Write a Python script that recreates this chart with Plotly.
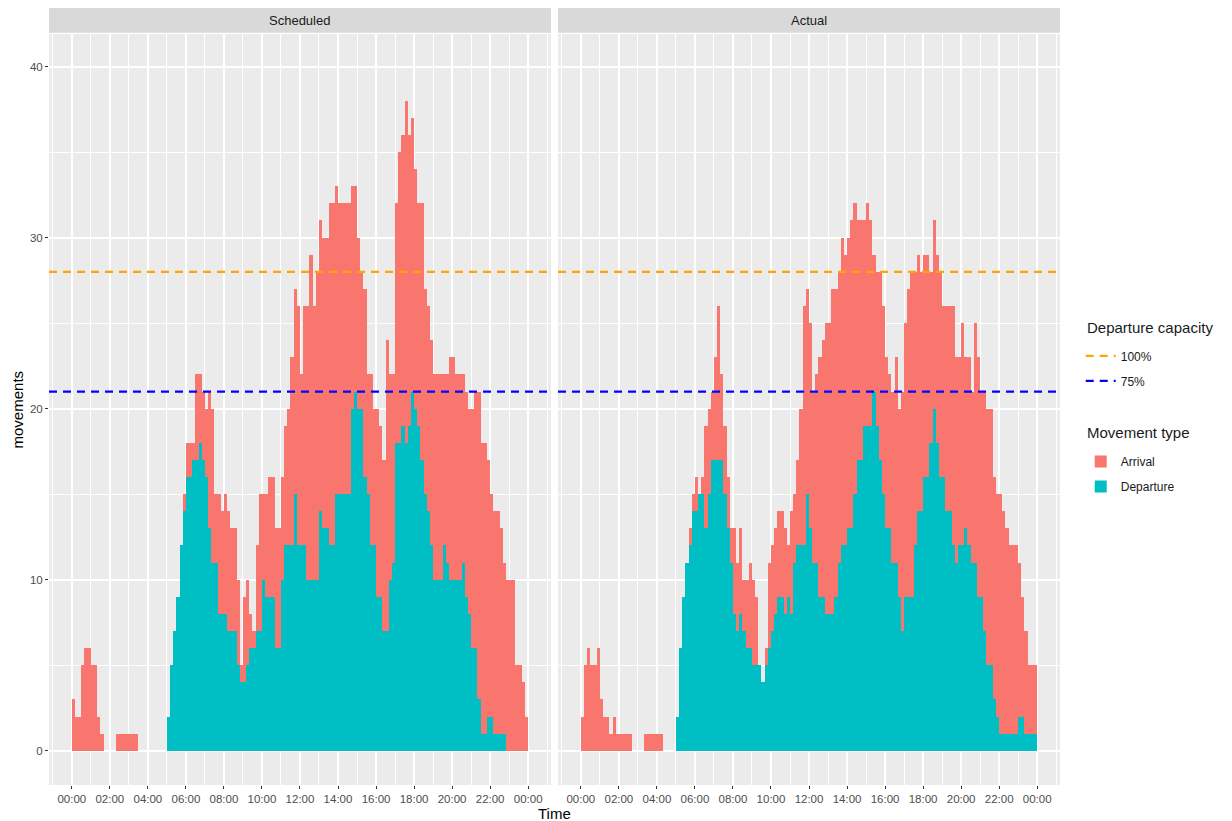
import plotly.graph_objects as go

# ---------------- data (rolling-hour movement counts, 10-minute bins) ----------------
time_labels = [f"{h:02d}:{m:02d}" for h in range(24) for m in range(0, 60, 10)]

sched_departure = [
    0, 0, 0, 0, 0, 0,   0, 0, 0, 0, 0, 0,
    0, 0, 0, 0, 0, 0,   0, 0, 0, 0, 0, 0,
    0, 0, 0, 0, 0, 0,   2, 5, 7, 9, 12, 14,
    16, 16, 17, 17, 18, 17,   16, 13, 11, 11, 8, 8,
    8, 7, 7, 7, 5, 4,   4, 5, 6, 6, 7, 7,
    10, 9, 9, 9, 6, 6,   10, 12, 12, 12, 15, 12,
    12, 12, 10, 10, 10, 10,   14, 13, 13, 12, 12, 15,
    15, 15, 15, 15, 20, 21,   20, 20, 16, 15, 12, 12,
    9, 9, 7, 7, 10, 11,   18, 18, 19, 18, 19, 21,
    20, 19, 17, 15, 14, 12,   10, 10, 10, 12, 11, 10,
    10, 10, 10, 11, 9, 8,   6, 6, 3, 1, 1, 2,
    2, 1, 1, 1, 1, 0,   0, 0, 0, 0, 0, 0,
]
sched_arrival = [
    3, 2, 2, 5, 6, 6,   5, 5, 2, 1, 0, 0,
    0, 0, 1, 1, 1, 1,   1, 1, 1, 0, 0, 0,
    0, 0, 0, 0, 0, 0,   0, 0, 0, 0, 0, 1,
    2, 2, 1, 5, 4, 4,   4, 8, 9, 4, 7, 6,
    7, 7, 6, 6, 5, 1,   5, 5, 2, 1, 5, 8,
    5, 6, 7, 7, 7, 7,   6, 7, 8, 11, 12, 14,
    10, 14, 16, 19, 16, 18,   17, 17, 17, 20, 20, 18,
    17, 17, 17, 17, 13, 12,   10, 8, 11, 7, 10, 8,
    11, 10, 10, 17, 12, 11,   14, 17, 17, 20, 17, 16,
    14, 13, 15, 12, 12, 12,   12, 12, 12, 10, 11, 13,
    13, 12, 12, 11, 12, 12,   14, 15, 18, 17, 17, 15,
    13, 13, 13, 12, 10, 10,   10, 10, 5, 5, 4, 2,
]
actual_departure = [
    0, 0, 0, 0, 0, 0,   0, 0, 0, 0, 0, 0,
    0, 0, 0, 0, 0, 0,   0, 0, 0, 0, 0, 0,
    0, 0, 0, 0, 0, 0,   2, 6, 9, 11, 12, 14,
    14, 15, 15, 13, 15, 17,   17, 17, 17, 15, 13, 11,
    8, 7, 8, 7, 6, 6,   5, 5, 5, 4, 5, 6,
    7, 8, 9, 9, 8, 9,   8, 11, 12, 12, 12, 15,
    13, 11, 11, 9, 9, 8,   8, 8, 9, 11, 12, 12,
    13, 13, 15, 17, 17, 19,   19, 19, 21, 19, 17, 15,
    13, 13, 11, 11, 9, 7,   9, 9, 9, 12, 14, 14,
    16, 16, 18, 20, 18, 16,   16, 14, 14, 12, 11, 12,
    12, 13, 12, 11, 11, 9,   9, 7, 5, 5, 3, 2,
    1, 1, 1, 1, 1, 1,   2, 2, 1, 1, 1, 1,
]
actual_arrival = [
    2, 5, 6, 5, 5, 6,   3, 2, 2, 1, 2, 1,
    1, 1, 1, 1, 0, 0,   0, 0, 1, 1, 1, 1,
    1, 1, 0, 0, 0, 0,   0, 0, 0, 0, 1, 1,
    2, 0, 1, 6, 5, 4,   6, 9, 5, 4, 3, 2,
    5, 4, 5, 3, 4, 5,   5, 4, 0, 0, 1, 5,
    5, 5, 5, 5, 5, 3,   6, 4, 5, 8, 14, 12,
    12, 10, 11, 14, 15, 17,   17, 19, 18, 17, 18, 17,
    17, 18, 17, 14, 14, 12,   13, 12, 8, 9, 11, 11,
    10, 9, 10, 12, 11, 14,   16, 18, 19, 16, 15, 14,
    13, 13, 10, 11, 11, 12,   10, 12, 12, 14, 12, 11,
    13, 10, 11, 10, 14, 14,   12, 14, 15, 15, 13, 13,
    14, 13, 12, 11, 11, 11,   9, 7, 6, 4, 4, 4,
]

facet_names = ["Scheduled", "Actual"]
movement_types = ["Arrival", "Departure"]
capacity_names = ["100%", "75%"]
capacity_values = [28, 21]
legend_titles = ["Departure capacity", "Movement type"]

tick_hours = list(range(0, 25, 2))
tick_labels = [f"{h % 24:02d}:00" for h in tick_hours]
y_ticks = [0, 10, 20, 30, 40]
y_minor = [5, 15, 25, 35]

# ---------------- styling ----------------
FONT = "Liberation Sans, Arial, sans-serif"
COL_ARR = "#F8766D"
COL_DEP = "#00BFC4"
CAP_COLORS = ["#FFA500", "#0000FF"]
X_RANGE = [-1.2, 25.2]
Y_RANGE = [-2.0, 41.9]
BIN_W = 1 / 6
Y_TOP = 0.9665

hours = [int(t[:2]) + int(t[3:]) / 60 for t in time_labels]
centers = [h + BIN_W / 2 for h in hours]

fig = go.Figure()
series = [(sched_departure, sched_arrival), (actual_departure, actual_arrival)]
for i, (dep, arr) in enumerate(series):
    xa = "x" if i == 0 else "x2"
    ya = "y" if i == 0 else "y2"
    fig.add_trace(go.Bar(
        x=centers, y=dep, width=BIN_W, name=movement_types[1],
        marker=dict(color=COL_DEP, line=dict(width=0)),
        legend="legend2", legendgroup=movement_types[1], legendrank=2,
        showlegend=(i == 0), xaxis=xa, yaxis=ya,
    ))
    fig.add_trace(go.Bar(
        x=centers, y=arr, width=BIN_W, name=movement_types[0],
        marker=dict(color=COL_ARR, line=dict(width=0)),
        legend="legend2", legendgroup=movement_types[0], legendrank=1,
        showlegend=(i == 0), xaxis=xa, yaxis=ya,
    ))
    for k, (name, val, col) in enumerate(zip(capacity_names, capacity_values, CAP_COLORS)):
        fig.add_trace(go.Scatter(
            x=X_RANGE, y=[val, val], mode="lines", name=name,
            line=dict(color=col, width=2.2, dash="8px,6px"),
            legend="legend", legendgroup=name, legendrank=k + 1,
            showlegend=(i == 0), xaxis=xa, yaxis=ya, hoverinfo="skip",
        ))

xaxis_common = dict(
    range=X_RANGE, tickmode="array", tickvals=tick_hours, ticktext=tick_labels,
    showgrid=True, gridcolor="white", gridwidth=2, zeroline=False, showline=False,
    ticks="outside", ticklen=3, tickwidth=1.3, tickcolor="#333333",
    tickfont=dict(size=11.5, color="#4D4D4D", family=FONT),
    minor=dict(tickmode="array", tickvals=list(range(-1, 26, 2)), showgrid=True,
               gridcolor="white", gridwidth=1, ticks=""),
    fixedrange=True,
)
yaxis_common = dict(
    range=Y_RANGE, tickmode="array", tickvals=y_ticks,
    showgrid=True, gridcolor="white", gridwidth=2, zeroline=False, showline=False,
    minor=dict(tickmode="array", tickvals=y_minor, showgrid=True,
               gridcolor="white", gridwidth=1, ticks=""),
    domain=[0, Y_TOP], fixedrange=True,
)

legend_common = dict(
    x=1.0205, xanchor="left", yanchor="top", traceorder="grouped",
    tracegroupgap=6, font=dict(size=12, color="#1A1A1A"),
    bgcolor="rgba(0,0,0,0)", itemwidth=30,
)

fig.update_layout(
    width=1232, height=821,
    margin=dict(l=49, r=172, t=8, b=36),
    paper_bgcolor="white", plot_bgcolor="#EBEBEB",
    barmode="stack", bargap=0,
    font=dict(family=FONT, color="#1A1A1A"),
    xaxis=dict(**xaxis_common, domain=[0, 0.4965], anchor="y"),
    xaxis2=dict(**xaxis_common, domain=[0.5035, 1], anchor="y2"),
    yaxis=dict(**yaxis_common, anchor="x", ticks="outside", ticklen=3, tickwidth=1.3,
               tickcolor="#333333", tickfont=dict(size=11.5, color="#4D4D4D", family=FONT)),
    yaxis2=dict(**yaxis_common, anchor="x2", matches="y", showticklabels=False, ticks=""),
    legend=dict(y=0.571, **legend_common),
    legend2=dict(y=0.435, **legend_common),
    showlegend=True,
)

# legend titles
for title, ypos in zip(legend_titles, [0.589, 0.4535]):
    fig.add_annotation(text=title, xref="paper", yref="paper", x=1.0245, y=ypos,
                       showarrow=False, xanchor="left", yanchor="middle",
                       font=dict(size=15, color="#1A1A1A", family=FONT))

# facet strips
for i, name in enumerate(facet_names):
    xr = "x domain" if i == 0 else "x2 domain"
    fig.add_shape(type="rect", xref=xr, yref="paper", x0=0, x1=1, y0=Y_TOP + 0.0015, y1=1.0,
                  fillcolor="#D9D9D9", line=dict(width=0), layer="below")
    fig.add_annotation(text=name, xref=xr, yref="paper", x=0.5, y=(Y_TOP + 1.0015) / 2,
                       showarrow=False, font=dict(size=13, color="#1A1A1A", family=FONT),
                       xanchor="center", yanchor="middle")

# axis titles
fig.add_annotation(text="Time", xref="paper", yref="paper", x=0.5, y=-0.0373,
                   showarrow=False, font=dict(size=15, color="#000000", family=FONT),
                   xanchor="center", yanchor="middle")
fig.add_annotation(text="movements", xref="paper", yref="paper", x=-0.0307, y=Y_TOP / 2,
                   showarrow=False, textangle=-90, font=dict(size=15, color="#000000", family=FONT),
                   xanchor="center", yanchor="middle")

fig.write_html("out.html", config={"displayModeBar": False},
               post_script="document.body.style.margin='0';")
